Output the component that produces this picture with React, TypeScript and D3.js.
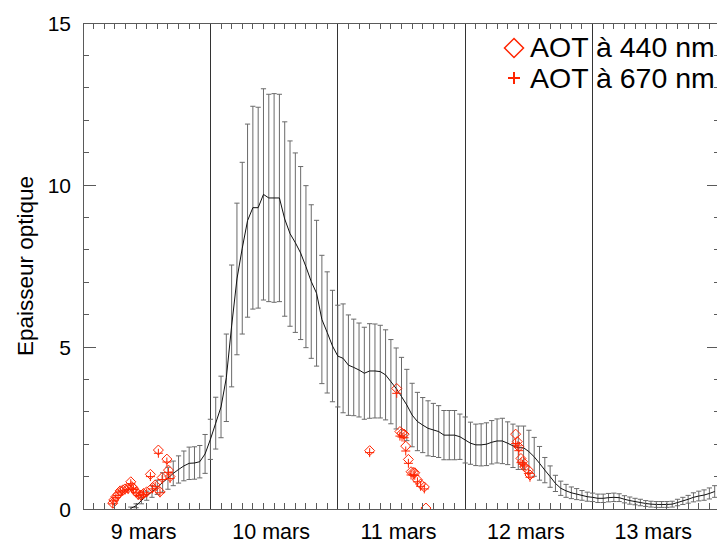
import React from 'react';
import * as d3 from 'd3';

// Hourly model series, first sample at 9 mars 09h (hours counted from 9 mars 00h)
const START_HOUR = 9;
const modelValues = [
  0.02, 0.10, 0.26, 0.41, 0.54, 0.67, 0.82, 0.95, 1.10, 1.22, 1.33, 1.41, 1.42, 1.46, 1.70,
  2.15, 2.65, 3.15, 4.05, 5.65, 7.10, 8.05, 8.90, 9.30, 9.30, 9.71, 9.60, 9.60, 9.60, 8.95,
  8.50, 8.22, 7.90, 7.48, 7.02, 6.66, 5.85, 5.45, 5.03, 4.72, 4.65, 4.44, 4.37, 4.29, 4.19,
  4.26, 4.26, 4.24, 4.14, 3.93, 3.72, 3.47, 3.21, 2.90, 2.70, 2.59, 2.49, 2.44, 2.39, 2.28,
  2.28, 2.28, 2.23, 2.13, 2.03, 1.98, 1.98, 2.00, 2.06, 2.10, 2.10, 2.03, 1.95, 1.89, 1.89,
  1.77, 1.61, 1.41, 1.20, 1.00, 0.79, 0.64, 0.56, 0.50, 0.46, 0.42, 0.38, 0.36, 0.33, 0.33,
  0.35, 0.36, 0.35, 0.30, 0.26, 0.23, 0.20, 0.17, 0.15, 0.14, 0.14, 0.14, 0.15, 0.20, 0.25,
  0.30, 0.36, 0.40, 0.43, 0.48, 0.54,
];
const modelErrors = [
  0.04, 0.06, 0.10, 0.14, 0.18, 0.22, 0.30, 0.34, 0.38, 0.42, 0.46, 0.50, 0.50, 0.50, 0.60,
  0.62, 0.80, 0.95, 1.35, 1.88, 2.34, 2.65, 2.98, 3.13, 3.10, 3.26, 3.20, 3.22, 3.20, 3.00,
  2.86, 2.77, 2.67, 2.50, 2.37, 2.25, 1.98, 1.87, 1.72, 1.57, 1.68, 1.55, 1.49, 1.45, 1.42,
  1.46, 1.45, 1.43, 1.39, 1.30, 1.25, 1.21, 1.10, 0.98, 0.90, 0.85, 0.85, 0.82, 0.80, 0.76,
  0.76, 0.76, 0.70, 0.71, 0.65, 0.64, 0.65, 0.66, 0.67, 0.68, 0.70, 0.66, 0.67, 0.67, 0.67,
  0.66, 0.60, 0.52, 0.39, 0.33, 0.25, 0.22, 0.20, 0.18, 0.17, 0.15, 0.14, 0.13, 0.13, 0.13,
  0.13, 0.13, 0.12, 0.11, 0.11, 0.10, 0.10, 0.09, 0.09, 0.09, 0.09, 0.09, 0.09, 0.10, 0.11,
  0.12, 0.14, 0.15, 0.16, 0.17, 0.18,
];

// Photometer observations (hours from 9 mars 00h)
const obsHours = [
  5.6, 5.8, 6.2, 6.6, 7.0, 7.5, 7.9, 8.5, 9.0, 9.2, 9.5, 10.0, 10.4, 10.9, 11.4, 12.0, 12.7,
  13.1, 13.6, 14.2, 14.5, 14.9, 15.8, 16.1, 16.4,
  54.0, 59.1, 59.7, 60.1, 60.5, 60.8, 61.3, 61.8, 62.2, 62.5, 63.0, 63.6, 64.3, 64.6,
  81.5, 81.8, 82.1, 82.5, 82.8, 83.2, 83.9, 84.2,
];
const aot440 = [
  0.18, 0.28, 0.38, 0.45, 0.56, 0.59, 0.62, 0.64, 0.84, 0.69, 0.64, 0.53, 0.45, 0.43, 0.48, 0.53, 1.07,
  0.66, 0.74, 1.82, 0.53, 0.97, 1.54, 1.20, 1.00,
  1.80, 3.72, 2.39, 2.34, 2.31, 1.94, 1.53, 1.15, 1.13, 1.12, 0.90, 0.77, 0.68, 0.03,
  2.31, 2.08, 1.92, 1.56, 1.46, 1.30, 1.20, 1.05,
];
const aot670: (number | null)[] = [
  0.16, 0.25, 0.35, 0.42, 0.52, 0.55, 0.58, 0.60, 0.78, 0.64, 0.60, 0.50, 0.42, 0.40, 0.45, 0.50, 1.00,
  0.62, 0.70, 1.72, 0.50, 0.91, 1.45, 1.13, 0.94,
  1.74, 3.57, 2.25, 2.22, 2.20, 1.79, 1.41, 1.05, 1.05, 1.04, 0.84, 0.70, 0.62, null,
  2.02, 1.95, 1.80, 1.43, 1.38, 1.33, 1.10, 0.98,
];

const dayLabels = ['9 mars', '10 mars', '11 mars', '12 mars', '13 mars'];
const yTickLabels = [0, 5, 10, 15];
const legendLabels = ['AOT à 440 nm', 'AOT à 670 nm'];

const W = 717;
const H = 543;
const L = 83, R = 720, T = 23, B = 509;
const RED = '#ff2400';
const FONT = '"Liberation Sans", Arial, Helvetica, sans-serif';

export default function App() {
  const x = d3.scaleLinear().domain([0, 120]).range([L, R]);
  const y = d3.scaleLinear().domain([0, 15]).range([B, T]);

  const model = modelValues.map((v, i) => ({ h: START_HOUR + i, v, e: modelErrors[i] }));
  const line = d3.line<{ h: number; v: number }>().x((d) => x(d.h)).y((d) => y(d.v));

  const minorY = d3.range(0, 16);
  const xTicks = d3.range(0, 121, 2).filter((h) => h % 24 !== 0);
  const separators = [24, 48, 72, 96];

  const diamond = (cx: number, cy: number, r: number) =>
    `M${cx},${cy - r}L${cx + r},${cy}L${cx},${cy + r}L${cx - r},${cy}Z`;
  const plus = (cx: number, cy: number, r: number) =>
    `M${cx - r},${cy}H${cx + r}M${cx},${cy - r}V${cy + r}`;

  const axisColor = '#5a5a5a';

  return (
    <div style={{ position: 'absolute', left: 0, top: 0 }}>
      <svg width={W} height={H} style={{ display: 'block', background: '#fff' }} fontFamily={FONT}>
        <defs>
          <clipPath id="plotclip">
            <rect x={L} y={T} width={R - L} height={B - T} />
          </clipPath>
        </defs>

        {/* day separators */}
        {separators.map((h) => (
          <line key={'s' + h} x1={x(h)} x2={x(h)} y1={T} y2={B} stroke="#333" strokeWidth={1} shapeRendering="crispEdges" />
        ))}

        {/* error bars and model line */}
        <g clipPath="url(#plotclip)">
          {model.map((d) => {
            const cx = x(d.h);
            const y1 = y(d.v + d.e);
            const y2 = y(d.v - d.e);
            return (
              <g key={'e' + d.h} stroke="#6a6a6a" strokeWidth={1}>
                <line x1={cx} x2={cx} y1={y1} y2={y2} />
                <line x1={cx - 2.6} x2={cx + 2.6} y1={y1} y2={y1} />
                <line x1={cx - 2.6} x2={cx + 2.6} y1={y2} y2={y2} />
              </g>
            );
          })}
          <path d={line(model) || ''} fill="none" stroke="#111" strokeWidth={1} />

          {/* observations */}
          {obsHours.map((h, i) => (
            <path key={'d' + i} d={diamond(x(h), y(aot440[i]), 5)} fill="none" stroke={RED} strokeWidth={1} />
          ))}
          {obsHours.map((h, i) =>
            aot670[i] === null ? null : (
              <path key={'p' + i} d={plus(x(h), y(aot670[i] as number), 4.5)} fill="none" stroke={RED} strokeWidth={1} />
            )
          )}
        </g>

        {/* frame */}
        <rect x={L} y={T} width={R - L} height={B - T} fill="none" stroke={axisColor} strokeWidth={1} shapeRendering="crispEdges" />

        {/* y ticks left and right */}
        {minorY.map((v) => {
          const len = v % 5 === 0 ? 13 : 6;
          return (
            <g key={'yt' + v} stroke={axisColor} strokeWidth={1} shapeRendering="crispEdges">
              <line x1={L} x2={L + len} y1={y(v)} y2={y(v)} />
              <line x1={R} x2={R - len} y1={y(v)} y2={y(v)} />
            </g>
          );
        })}

        {/* x ticks bottom and top */}
        {xTicks.map((h) => (
          <g key={'xt' + h} stroke={axisColor} strokeWidth={1} shapeRendering="crispEdges">
            <line x1={x(h)} x2={x(h)} y1={B} y2={B - 6} />
            <line x1={x(h)} x2={x(h)} y1={T} y2={T + 6} />
          </g>
        ))}

        {/* y tick labels */}
        {yTickLabels.map((v) => (
          <text key={'yl' + v} x={71} y={y(v)} dy="0.36em" textAnchor="end" fontSize={21} fill="#000">
            {v}
          </text>
        ))}

        {/* x day labels */}
        {dayLabels.map((lab, i) => (
          <text key={'xl' + i} x={x(i * 24 + 12) - 3} y={539} textAnchor="middle" fontSize={21.5} fill="#000">
            {lab}
          </text>
        ))}

        {/* y axis title */}
        <text transform="translate(33,266) rotate(-90)" textAnchor="middle" fontSize={22.5} fill="#000">
          Epaisseur optique
        </text>

        {/* legend */}
        <path d={diamond(514, 48, 9.5)} fill="none" stroke={RED} strokeWidth={1.5} />
        <text x={530} y={57} fontSize={28.5} fill="#000">{legendLabels[0]}</text>
        <path d={plus(514, 78, 6)} fill="none" stroke={RED} strokeWidth={2} />
        <text x={530} y={88} fontSize={28.5} fill="#000">{legendLabels[1]}</text>
      </svg>
    </div>
  );
}
